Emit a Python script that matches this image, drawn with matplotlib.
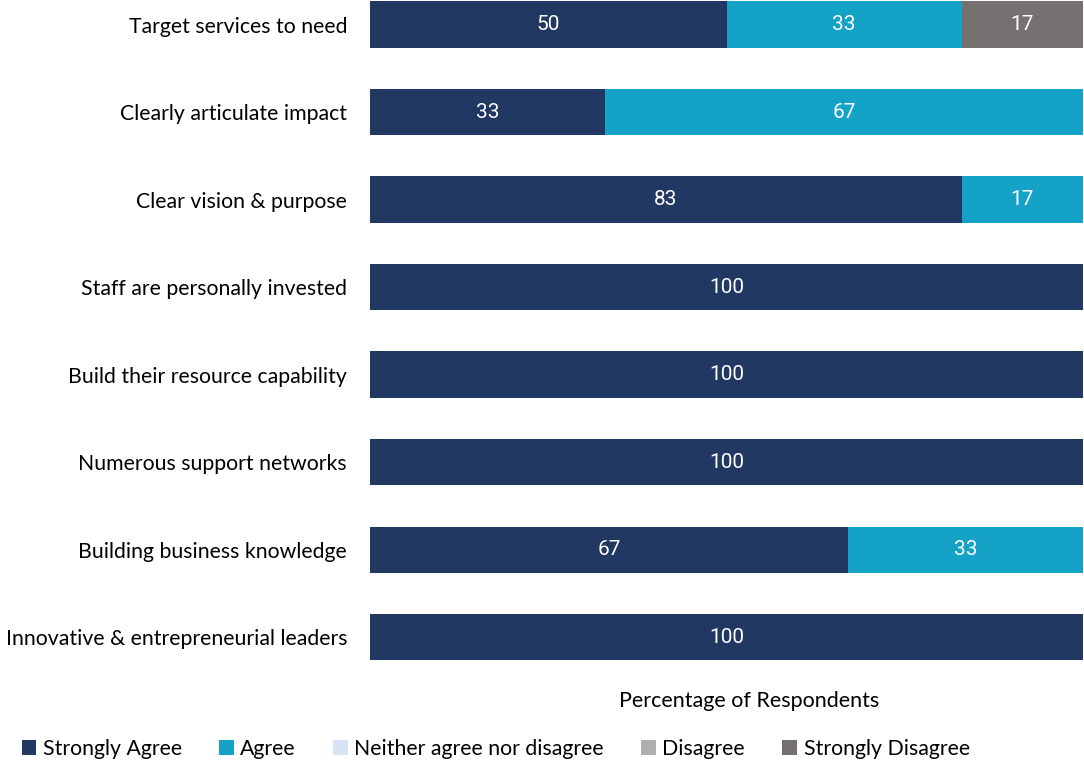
import matplotlib.pyplot as plt
from matplotlib.patches import Patch
import numpy as np

categories = ['Target services to need', 'Clearly articulate impact', 'Clear vision & purpose',
              'Staff are personally invested', 'Build their resource capability',
              'Numerous support networks', 'Building business knowledge',
              'Innovative & entrepreneurial leaders']
series_names = ['Strongly Agree', 'Agree', 'Neither agree nor disagree', 'Disagree', 'Strongly Disagree']
strongly_agree = [50, 33, 83, 100, 100, 100, 67, 100]
agree = [33, 67, 17, 0, 0, 0, 33, 0]
neither = [0, 0, 0, 0, 0, 0, 0, 0]
disagree = [0, 0, 0, 0, 0, 0, 0, 0]
strongly_disagree = [17, 0, 0, 0, 0, 0, 0, 0]
colors = ['#213863', '#14A3C7', '#D6E4F5', '#B0AEAE', '#767171']

plt.rcParams['font.family'] = ['Lato', 'DejaVu Sans']

fig = plt.figure(figsize=(10.84, 7.62), dpi=100)
ax = fig.add_axes([370 / 1084, 81 / 762, 713 / 1084, 681 / 762])

y = np.arange(len(categories))
left = np.zeros(len(categories))
for name, vals, c in zip(series_names, [strongly_agree, agree, neither, disagree, strongly_disagree], colors):
    vals = np.array(vals, dtype=float)
    ax.barh(y, vals, left=left, height=0.53, color=c, label=name)
    # value labels in the middle of each segment
    for yi, (l, v) in enumerate(zip(left, vals)):
        if v > 0:
            ax.text(l + v / 2, yi, f'{v:.0f}', ha='center', va='center', color='white',
                    fontsize=15, family=['Roboto', 'DejaVu Sans'])
    left += vals

ax.set_xlim(0, 100)
ax.set_ylim(7.5, -0.28)
ax.set_yticks(y)
ax.set_yticklabels(categories, fontsize=15.3)
ax.tick_params(axis='y', length=0, pad=16.5)
ax.set_xticks([])
for s in ax.spines.values():
    s.set_visible(False)

fig.text(749 / 1084, 1 - 701 / 762, 'Percentage of Respondents', ha='center', va='center', fontsize=15.5)

handles = [Patch(facecolor=c, label=n) for n, c in zip(series_names, colors)]
fig.legend(handles=handles, loc='center left', bbox_to_anchor=(13 / 1084, 1 - 749 / 762), ncol=5,
           frameon=False, fontsize=15.3, handlelength=0.7, handleheight=0.7, handletextpad=0.3,
           columnspacing=1.75, borderaxespad=0)

fig.savefig('out.png', dpi=100)
